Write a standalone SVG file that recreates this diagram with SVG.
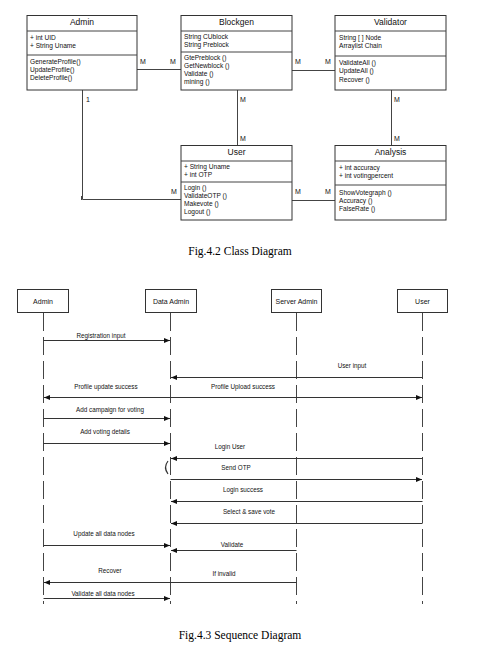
<svg xmlns="http://www.w3.org/2000/svg" width="478" height="648" viewBox="0 0 478 648">
<defs>
<style>
.box{fill:#fff;stroke:#333;stroke-width:1}
.ln{stroke:#444;stroke-width:1;fill:none}
.t{font-family:"Liberation Sans",Arial,sans-serif;font-size:6.6px;fill:#111}
.h{font-family:"Liberation Sans",Arial,sans-serif;font-size:8.5px;fill:#111;text-anchor:middle}
.m{font-family:"Liberation Sans",Arial,sans-serif;font-size:7px;fill:#111}
.s{font-family:"Liberation Sans",Arial,sans-serif;font-size:6.3px;fill:#111;text-anchor:middle}
.cap{font-family:"Liberation Serif","Times New Roman",serif;font-size:11.5px;fill:#000;text-anchor:middle}
.life{stroke:#444;stroke-width:1;stroke-dasharray:18 6;fill:none}
.msg{stroke:#333;stroke-width:1;fill:none}
</style>
<marker id="ah" viewBox="0 0 10 10" refX="10" refY="5" markerWidth="6" markerHeight="6" orient="auto-start-reverse" markerUnits="userSpaceOnUse">
<path d="M0,1 L10,5 L0,9 z" fill="#111"/>
</marker>
</defs>
<rect width="478" height="648" fill="#fff"/>

<!-- Class diagram connectors -->
<g id="class-connectors">
<line class="ln" x1="137" y1="69.5" x2="181" y2="69.5"/>
<line class="ln" x1="292" y1="70.5" x2="335" y2="70.5"/>
<line class="ln" x1="237.5" y1="90" x2="237.5" y2="145"/>
<line class="ln" x1="391.5" y1="90" x2="391.5" y2="145"/>
<line class="ln" x1="292" y1="200.5" x2="335" y2="200.5"/>
<polyline class="ln" points="82.5,90 82.5,199.5 181,199.5"/>
<line class="ln" x1="81.5" y1="196" x2="81.5" y2="200"/>
<text class="m" x="140" y="64">M</text>
<text class="m" x="170" y="64">M</text>
<text class="m" x="295" y="64">M</text>
<text class="m" x="325" y="64">M</text>
<text class="m" x="240" y="102">M</text>
<text class="m" x="240" y="141">M</text>
<text class="m" x="394" y="102">M</text>
<text class="m" x="394" y="141">M</text>
<text class="m" x="295" y="194">M</text>
<text class="m" x="325" y="194">M</text>
<text class="m" x="86" y="102">1</text>
<text class="m" x="171" y="194">M</text>
</g>

<g id="class-admin">
<rect class="box" x="27" y="15.5" width="110" height="74.5"/>
<line class="ln" x1="27" y1="31" x2="137" y2="31"/>
<line class="ln" x1="27" y1="55" x2="137" y2="55"/>
<text class="h" x="82" y="25">Admin</text>
<text class="t" x="30" y="40">+ int UID</text>
<text class="t" x="30" y="48">+ String Uname</text>
<text class="t" x="30" y="64">GenerateProfile()</text>
<text class="t" x="30" y="72">UpdateProfile()</text>
<text class="t" x="30" y="80">DeleteProfile()</text>
</g>

<g id="class-blockgen">
<rect class="box" x="181" y="15.5" width="111" height="74.5"/>
<line class="ln" x1="181" y1="31" x2="292" y2="31"/>
<line class="ln" x1="181" y1="52" x2="292" y2="52"/>
<text class="h" x="236.5" y="25">Blockgen</text>
<text class="t" x="184" y="39">String CUblock</text>
<text class="t" x="184" y="47">String Preblock</text>
<text class="t" x="184" y="60">GtePreblock ()</text>
<text class="t" x="184" y="68">GetNewblock ()</text>
<text class="t" x="184" y="76">Validate ()</text>
<text class="t" x="184" y="84">mining ()</text>
</g>

<g id="class-validator">
<rect class="box" x="335" y="15.5" width="111" height="74.5"/>
<line class="ln" x1="335" y1="31" x2="446" y2="31"/>
<line class="ln" x1="335" y1="56" x2="446" y2="56"/>
<text class="h" x="390.5" y="25">Validator</text>
<text class="t" x="339" y="40">String [ ] Node</text>
<text class="t" x="339" y="48">Arraylist Chain</text>
<text class="t" x="339" y="65">ValidateAll ()</text>
<text class="t" x="339" y="73">UpdateAll ()</text>
<text class="t" x="339" y="82">Recover ()</text>
</g>

<g id="class-user">
<rect class="box" x="181" y="145.5" width="111" height="74.5"/>
<line class="ln" x1="181" y1="161" x2="292" y2="161"/>
<line class="ln" x1="181" y1="182" x2="292" y2="182"/>
<text class="h" x="236.5" y="155">User</text>
<text class="t" x="184" y="169">+ String Uname</text>
<text class="t" x="184" y="177">+ int OTP</text>
<text class="t" x="184" y="190">Login ()</text>
<text class="t" x="184" y="198">ValidateOTP ()</text>
<text class="t" x="184" y="206">Makevote ()</text>
<text class="t" x="184" y="214">Logout ()</text>
</g>

<g id="class-analysis">
<rect class="box" x="335" y="145.5" width="111" height="74.5"/>
<line class="ln" x1="335" y1="161" x2="446" y2="161"/>
<line class="ln" x1="335" y1="185" x2="446" y2="185"/>
<text class="h" x="390.5" y="155">Analysis</text>
<text class="t" x="339" y="170">+ int accuracy</text>
<text class="t" x="339" y="178">+ int votingpercent</text>
<text class="t" x="339" y="195">ShowVotegraph ()</text>
<text class="t" x="339" y="203">Accuracy ()</text>
<text class="t" x="339" y="211">FalseRate ()</text>
</g>

<text class="cap" x="240" y="255">Fig.4.2 Class Diagram</text>

<!-- Sequence diagram -->
<g id="seq-admin">
<rect class="box" x="17.5" y="289.5" width="51" height="23"/>
<text class="s" x="43" y="303.5" style="font-size:7px">Admin</text>
</g>
<g id="seq-dataadmin">
<rect class="box" x="145.5" y="289.5" width="51" height="23"/>
<text class="s" x="171" y="303.5" style="font-size:7px">Data Admin</text>
</g>
<g id="seq-serveradmin">
<rect class="box" x="271.5" y="289.5" width="50" height="23"/>
<text class="s" x="296.5" y="303.5" style="font-size:7px">Server Admin</text>
</g>
<g id="seq-user">
<rect class="box" x="397.5" y="289.5" width="50" height="23"/>
<text class="s" x="422.5" y="303.5" style="font-size:7px">User</text>
</g>

<g id="seq-connectors">
<line class="life" x1="43.5" y1="313" x2="43.5" y2="604"/>
<line class="life" x1="170.5" y1="313" x2="170.5" y2="604"/>
<line class="life" x1="296.5" y1="313" x2="296.5" y2="604"/>
<line class="life" x1="422.5" y1="313" x2="422.5" y2="604"/>

<line class="msg" x1="43.5" y1="340.5" x2="170" y2="340.5" marker-end="url(#ah)"/>
<text class="s" x="101" y="338">Registration input</text>

<line class="msg" x1="422.5" y1="377.5" x2="171" y2="377.5" marker-end="url(#ah)"/>
<text class="s" x="352" y="368">User input</text>

<line class="msg" x1="44" y1="397.5" x2="422" y2="397.5" marker-start="url(#ah)" marker-end="url(#ah)"/>
<text class="s" x="106" y="389">Profile update success</text>
<text class="s" x="243" y="389">Profile Upload success</text>

<line class="msg" x1="43.5" y1="418.5" x2="170" y2="418.5" marker-end="url(#ah)"/>
<text class="s" x="110" y="412">Add campaign for voting</text>

<line class="msg" x1="43.5" y1="443.5" x2="170" y2="443.5" marker-end="url(#ah)"/>
<text class="s" x="105" y="434">Add voting details</text>

<line class="msg" x1="422.5" y1="458.5" x2="171" y2="458.5" marker-end="url(#ah)"/>
<text class="s" x="230" y="449">Login User</text>

<path class="msg" d="M168,461 Q163,467.5 168,474" style="stroke-width:1.2"/>
<line class="msg" x1="170.5" y1="479.5" x2="422" y2="479.5" marker-end="url(#ah)"/>
<text class="s" x="236" y="470">Send OTP</text>

<line class="msg" x1="422.5" y1="501.5" x2="171" y2="501.5" marker-end="url(#ah)"/>
<text class="s" x="243" y="492">Login success</text>

<line class="msg" x1="422.5" y1="523.5" x2="171" y2="523.5" marker-end="url(#ah)"/>
<text class="s" x="249" y="514">Select &amp; save vote</text>

<line class="msg" x1="43.5" y1="545.5" x2="170" y2="545.5" marker-end="url(#ah)"/>
<text class="s" x="104" y="536">Update all data nodes</text>

<line class="msg" x1="296.5" y1="550.5" x2="171" y2="550.5" marker-end="url(#ah)"/>
<text class="s" x="232" y="547">Validate</text>

<line class="msg" x1="296.5" y1="582.5" x2="44" y2="582.5" marker-end="url(#ah)"/>
<text class="s" x="110" y="573">Recover</text>
<text class="s" x="224" y="576">If invalid</text>

<line class="msg" x1="43.5" y1="598.5" x2="170" y2="598.5" marker-end="url(#ah)"/>
<text class="s" x="103" y="596">Validate all data nodes</text>
</g>

<text class="cap" x="240" y="639">Fig.4.3 Sequence Diagram</text>
</svg>
